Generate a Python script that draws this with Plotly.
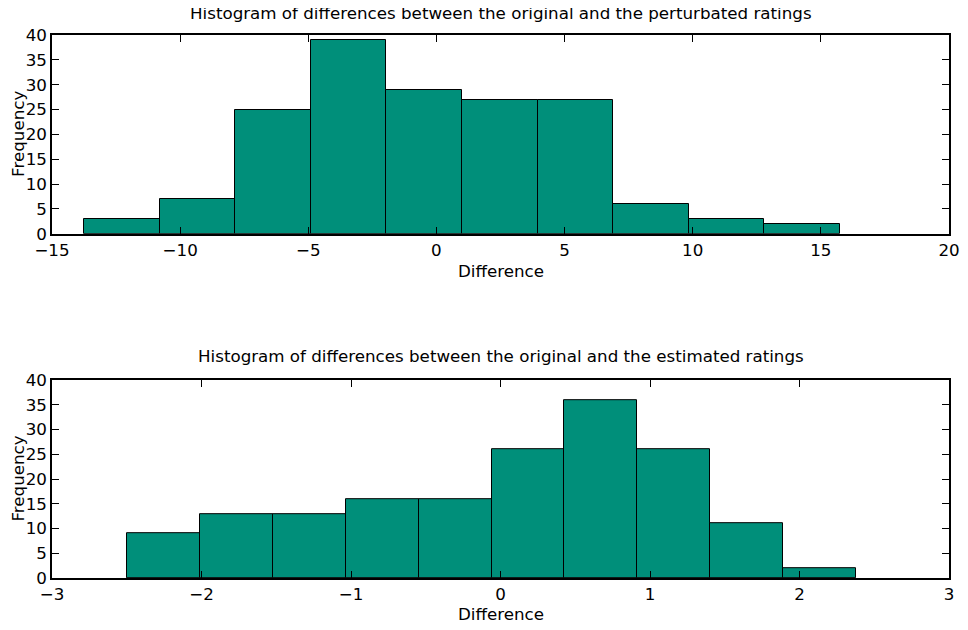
import plotly.graph_objects as go

# Top histogram: differences between original and perturbated ratings
top_edges = [-13.75, -10.8, -7.85, -4.9, -1.95, 1.0, 3.95, 6.9, 9.85, 12.8, 15.75]
top_counts = [3, 7, 25, 39, 29, 27, 27, 6, 3, 2]

# Bottom histogram: differences between original and estimated ratings
bot_edges = [-2.5, -2.012, -1.524, -1.036, -0.548, -0.06, 0.428, 0.916, 1.404, 1.892, 2.38]
bot_counts = [9, 13, 13, 16, 16, 26, 36, 26, 11, 2]

top_title = "Histogram of differences between the original and the perturbated ratings"
bot_title = "Histogram of differences between the original and the estimated ratings"
x_label = "Difference"
y_label = "Frequency"

BAR_COLOR = "#008F7A"
FONT = "DejaVu Sans"
FS = 16.7


def centers(edges):
    return [(a + b) / 2 for a, b in zip(edges[:-1], edges[1:])]


def widths(edges):
    return [b - a for a, b in zip(edges[:-1], edges[1:])]


fig = go.Figure()
fig.add_trace(go.Bar(x=centers(top_edges), y=top_counts, width=widths(top_edges),
                     marker=dict(color=BAR_COLOR, line=dict(color="black", width=1)),
                     xaxis="x", yaxis="y", showlegend=False))
fig.add_trace(go.Bar(x=centers(bot_edges), y=bot_counts, width=widths(bot_edges),
                     marker=dict(color=BAR_COLOR, line=dict(color="black", width=1)),
                     xaxis="x2", yaxis="y2", showlegend=False))

# page has an 8px body margin; work in screen pixels and subtract it
OFF = 8
W, H = 968 - OFF, 630 - OFF
L, R, T, B = 52 - OFF, 949 - OFF, 35 - OFF, 578.5 - OFF
PW, PH = R - L, B - T


def py(ypix):
    return (B - (ypix - OFF)) / PH


def px(xpix):
    return ((xpix - OFF) - L) / PW


top_dom = [py(234), 1]
bot_dom = [0, py(380.5)]

axis_common = dict(showgrid=False, zeroline=False, showline=True, linecolor="black",
                   linewidth=1.5, mirror="ticks", ticks="inside", ticklen=7,
                   tickcolor="black", tickwidth=1,
                   tickfont=dict(family=FONT, size=FS, color="black"))

ann_font = dict(size=FS, family=FONT, color="black")
fig.update_layout(
    width=W, height=H,
    margin=dict(l=L, r=W - R, t=T, b=H - B, autoexpand=False),
    plot_bgcolor="white", paper_bgcolor="white",
    bargap=0,
    font=dict(family=FONT, color="black"),
    xaxis=dict(domain=[0, 1], anchor="y", range=[-15, 20], tick0=-15, dtick=5, **axis_common),
    yaxis=dict(domain=top_dom, anchor="x", range=[0, 40], dtick=5, **axis_common),
    xaxis2=dict(domain=[0, 1], anchor="y2", range=[-3, 3], tick0=-3, dtick=1, **axis_common),
    yaxis2=dict(domain=bot_dom, anchor="x2", range=[0, 40], dtick=5, **axis_common),
    annotations=[
        dict(text=top_title, x=0.5, y=py(13), xref="paper", yref="paper", yanchor="middle",
             showarrow=False, font=ann_font),
        dict(text=bot_title, x=0.5, y=py(356), xref="paper", yref="paper", yanchor="middle",
             showarrow=False, font=ann_font),
        dict(text=x_label, x=0.5, y=py(271), xref="paper", yref="paper", yanchor="middle",
             showarrow=False, font=ann_font),
        dict(text=x_label, x=0.5, y=py(615), xref="paper", yref="paper", yanchor="middle",
             showarrow=False, font=ann_font),
        dict(text=y_label, x=px(18), y=py(134), xref="paper", yref="paper", xanchor="center",
             yanchor="middle", showarrow=False, textangle=-90, font=ann_font),
        dict(text=y_label, x=px(18), y=py(479), xref="paper", yref="paper", xanchor="center",
             yanchor="middle", showarrow=False, textangle=-90, font=ann_font),
    ],
)

fig.write_html("out.html")
